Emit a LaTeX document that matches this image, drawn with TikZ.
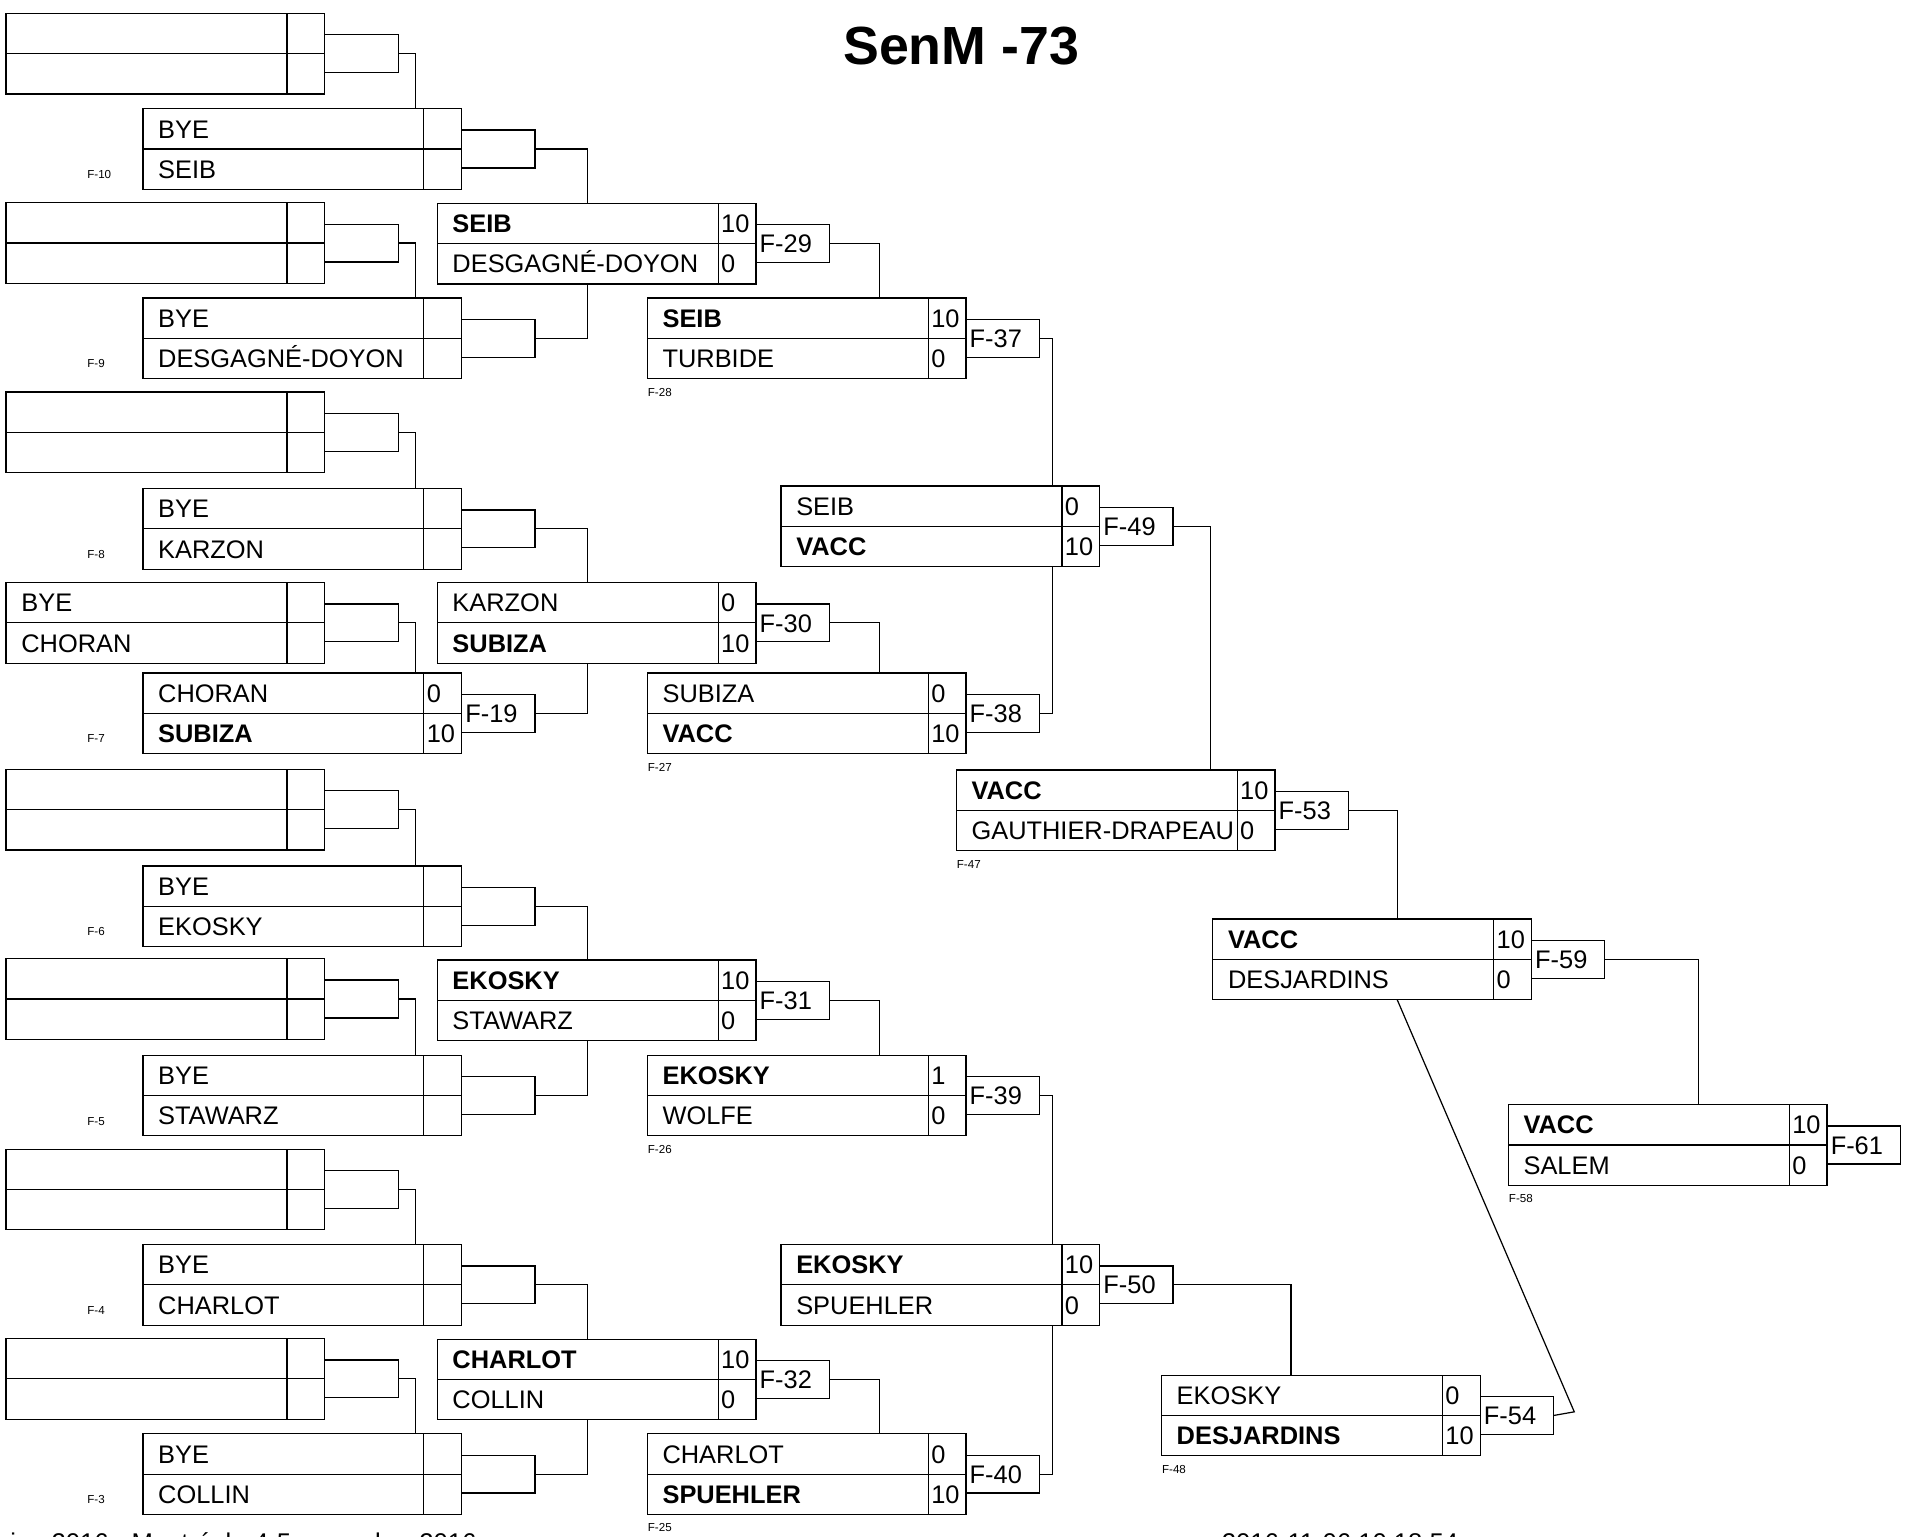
\documentclass[tikz,border=0pt]{standalone}
\usepackage{fontspec}
\setmainfont{Liberation Sans}
\usepackage{tikz}
\usetikzlibrary{positioning}

% match box: name, x, y, top player, top score, bottom player, bottom score, bracket label
\newcommand{\drawmatch}[8]{%
  \node[matchbox] (#1) at (#2,#3) {};
  \draw (#1.west) -- (#1.east);
  \draw ([xshift=-31pt]#1.north east) -- ([xshift=-31pt]#1.south east);
  \node[plyr] (#1-p1) at ([xshift=12pt,yshift=16.5pt]#1.west) {#4};
  \node[plyr] (#1-s1) at ([xshift=-29pt,yshift=16.5pt]#1.east) {#5};
  \node[plyr] (#1-p2) at ([xshift=12pt,yshift=-16.5pt]#1.west) {#6};
  \node[plyr] (#1-s2) at ([xshift=-29pt,yshift=-16.5pt]#1.east) {#7};
  \node[fbox, right=0pt of #1] (#1-f) {#8};
}

\begin{document}
\begin{tikzpicture}[x=1pt,y=-1pt,line width=1pt,
    matchbox/.style={draw,rectangle,minimum width=261pt,minimum height=66pt,inner sep=0pt,outer sep=0pt},
    plyr/.style={anchor=west,inner sep=0pt,text height=15pt,text depth=0pt,font=\fontsize{20.8}{24}\selectfont},
    fbox/.style={draw,outer sep=0pt,minimum height=31pt,text width=54pt,inner xsep=3pt,inner ysep=0pt,align=left,
                 text height=15pt,text depth=0pt,font=\fontsize{20.8}{24}\selectfont},
    tag/.style={anchor=west,inner sep=0pt,font=\fontsize{9.5}{11}\selectfont}]

  \useasboundingbox (0,0) rectangle (1568,1258);

  \node[font=\fontsize{44}{50}\selectfont\bfseries] (title) at (787,38) {SenM -73};

  % first round
  \drawmatch{a1}{135.5}{44}{}{}{}{}{}
  \drawmatch{a2}{135.5}{199}{}{}{}{}{}
  \drawmatch{a3}{135.5}{354}{}{}{}{}{}
  \drawmatch{a4}{135.5}{510}{BYE}{}{CHORAN}{}{}
  \drawmatch{a5}{135.5}{663}{}{}{}{}{}
  \drawmatch{a6}{135.5}{818}{}{}{}{}{}
  \drawmatch{a7}{135.5}{974}{}{}{}{}{}
  \drawmatch{a8}{135.5}{1129}{}{}{}{}{}

  \drawmatch{b1}{247.5}{122}{BYE}{}{SEIB}{}{}
  \drawmatch{b2}{247.5}{277}{BYE}{}{DESGAGNÉ-DOYON}{}{}
  \drawmatch{b3}{247.5}{433}{BYE}{}{KARZON}{}{}
  \drawmatch{b4}{247.5}{584}{CHORAN}{0}{\textbf{SUBIZA}}{10}{F-19}
  \drawmatch{b5}{247.5}{742}{BYE}{}{EKOSKY}{}{}
  \drawmatch{b6}{247.5}{897}{BYE}{}{STAWARZ}{}{}
  \drawmatch{b7}{247.5}{1052}{BYE}{}{CHARLOT}{}{}
  \drawmatch{b8}{247.5}{1207}{BYE}{}{COLLIN}{}{}

  \drawmatch{c1}{488.5}{199.5}{\textbf{SEIB}}{10}{DESGAGNÉ-DOYON}{0}{F-29}
  \drawmatch{c2}{488.5}{510}{KARZON}{0}{\textbf{SUBIZA}}{10}{F-30}
  \drawmatch{c3}{488.5}{819}{\textbf{EKOSKY}}{10}{STAWARZ}{0}{F-31}
  \drawmatch{c4}{488.5}{1129.5}{\textbf{CHARLOT}}{10}{COLLIN}{0}{F-32}

  \drawmatch{d1}{660.5}{277}{\textbf{SEIB}}{10}{TURBIDE}{0}{F-37}
  \drawmatch{d2}{660.5}{584}{SUBIZA}{0}{\textbf{VACC}}{10}{F-38}
  \drawmatch{d3}{660.5}{897}{\textbf{EKOSKY}}{1}{WOLFE}{0}{F-39}
  \drawmatch{d4}{660.5}{1207}{CHARLOT}{0}{\textbf{SPUEHLER}}{10}{F-40}

  \drawmatch{e1}{770}{431}{SEIB}{0}{\textbf{VACC}}{10}{F-49}
  \drawmatch{e2}{770}{1052}{\textbf{EKOSKY}}{10}{SPUEHLER}{0}{F-50}

  \drawmatch{f1}{913.5}{663.5}{\textbf{VACC}}{10}{GAUTHIER-DRAPEAU}{0}{F-53}
  \drawmatch{g1}{1081.5}{1159}{EKOSKY}{0}{\textbf{DESJARDINS}}{10}{F-54}
  \drawmatch{h1}{1123.5}{785.5}{\textbf{VACC}}{10}{DESJARDINS}{0}{F-59}
  \drawmatch{i1}{1365.5}{937.5}{\textbf{VACC}}{10}{SALEM}{0}{F-61}

  % pool numbers
  \node[tag] (t10) at ([xshift=-46pt,yshift=12pt]b1.south west) {F-10};
  \node[tag] (t9) at ([xshift=-46pt,yshift=12pt]b2.south west) {F-9};
  \node[tag] (t8) at ([xshift=-46pt,yshift=12pt]b3.south west) {F-8};
  \node[tag] (t7) at ([xshift=-46pt,yshift=12pt]b4.south west) {F-7};
  \node[tag] (t6) at ([xshift=-46pt,yshift=12pt]b5.south west) {F-6};
  \node[tag] (t5) at ([xshift=-46pt,yshift=12pt]b6.south west) {F-5};
  \node[tag] (t4) at ([xshift=-46pt,yshift=12pt]b7.south west) {F-4};
  \node[tag] (t3) at ([xshift=-46pt,yshift=12pt]b8.south west) {F-3};
  \node[tag] (t28) at ([yshift=-11pt]d1.south west) {F-28};
  \node[tag] (t27) at ([yshift=-11pt]d2.south west) {F-27};
  \node[tag] (t26) at ([yshift=-11pt]d3.south west) {F-26};
  \node[tag] (t25) at ([yshift=-11pt]d4.south west) {F-25};
  \node[tag] (t47) at ([yshift=-11pt]f1.south west) {F-47};
  \node[tag] (t48) at ([yshift=-11pt]g1.south west) {F-48};
  \node[tag] (t58) at ([yshift=-11pt]i1.south west) {F-58};

  % connectors
  \draw (a1-f.east) -| ([xshift=92.5pt]b1.north);
  \draw (a2-f.east) -| ([xshift=92.5pt]b2.north);
  \draw (a3-f.east) -| ([xshift=92.5pt]b3.north);
  \draw (a4-f.east) -| ([xshift=92.5pt]b4.north);
  \draw (a5-f.east) -| ([xshift=92.5pt]b5.north);
  \draw (a6-f.east) -| ([xshift=92.5pt]b6.north);
  \draw (a7-f.east) -| ([xshift=92.5pt]b7.north);
  \draw (a8-f.east) -| ([xshift=92.5pt]b8.north);

  \draw (b1-f.east) -| ([xshift=-7.5pt]c1.north);
  \draw (b2-f.east) -| ([xshift=-7.5pt]c1.south);
  \draw (b3-f.east) -| ([xshift=-7.5pt]c2.north);
  \draw (b4-f.east) -| ([xshift=-7.5pt]c2.south);
  \draw (b5-f.east) -| ([xshift=-7.5pt]c3.north);
  \draw (b6-f.east) -| ([xshift=-7.5pt]c3.south);
  \draw (b7-f.east) -| ([xshift=-7.5pt]c4.north);
  \draw (b8-f.east) -| ([xshift=-7.5pt]c4.south);

  \draw (c1-f.east) -| ([xshift=59.5pt]d1.north);
  \draw (c2-f.east) -| ([xshift=59.5pt]d2.north);
  \draw (c3-f.east) -| ([xshift=59.5pt]d3.north);
  \draw (c4-f.east) -| ([xshift=59.5pt]d4.north);

  \draw (d1-f.east) -| ([xshift=92pt]e1.north);
  \draw (d2-f.east) -| ([xshift=92pt]e1.south);
  \draw (d3-f.east) -| ([xshift=92pt]e2.north);
  \draw (d4-f.east) -| ([xshift=92pt]e2.south);

  \draw (e1-f.east) -| ([xshift=77.5pt]f1.north);
  \draw (e2-f.east) -| ([xshift=-24.5pt]g1.north);
  \draw (f1-f.east) -| ([xshift=20.5pt]h1.north);
  \draw (g1-f.east) -- ++(17,-3) -- ([xshift=20.5pt]h1.south);
  \draw (h1-f.east) -| ([xshift=25.5pt]i1.north);

  % footer, cut by the page edge
  \node[anchor=base west,inner sep=0pt,font=\fontsize{21}{24}\selectfont] (venue) at (8,1270) {ion 2016 - Montréal - 4-5 novembre 2016};
  \node[anchor=base west,inner sep=0pt,font=\fontsize{21}{24}\selectfont] (stamp) at (1000,1270) {2016-11-06 10:18:54};
\end{tikzpicture}
\end{document}
